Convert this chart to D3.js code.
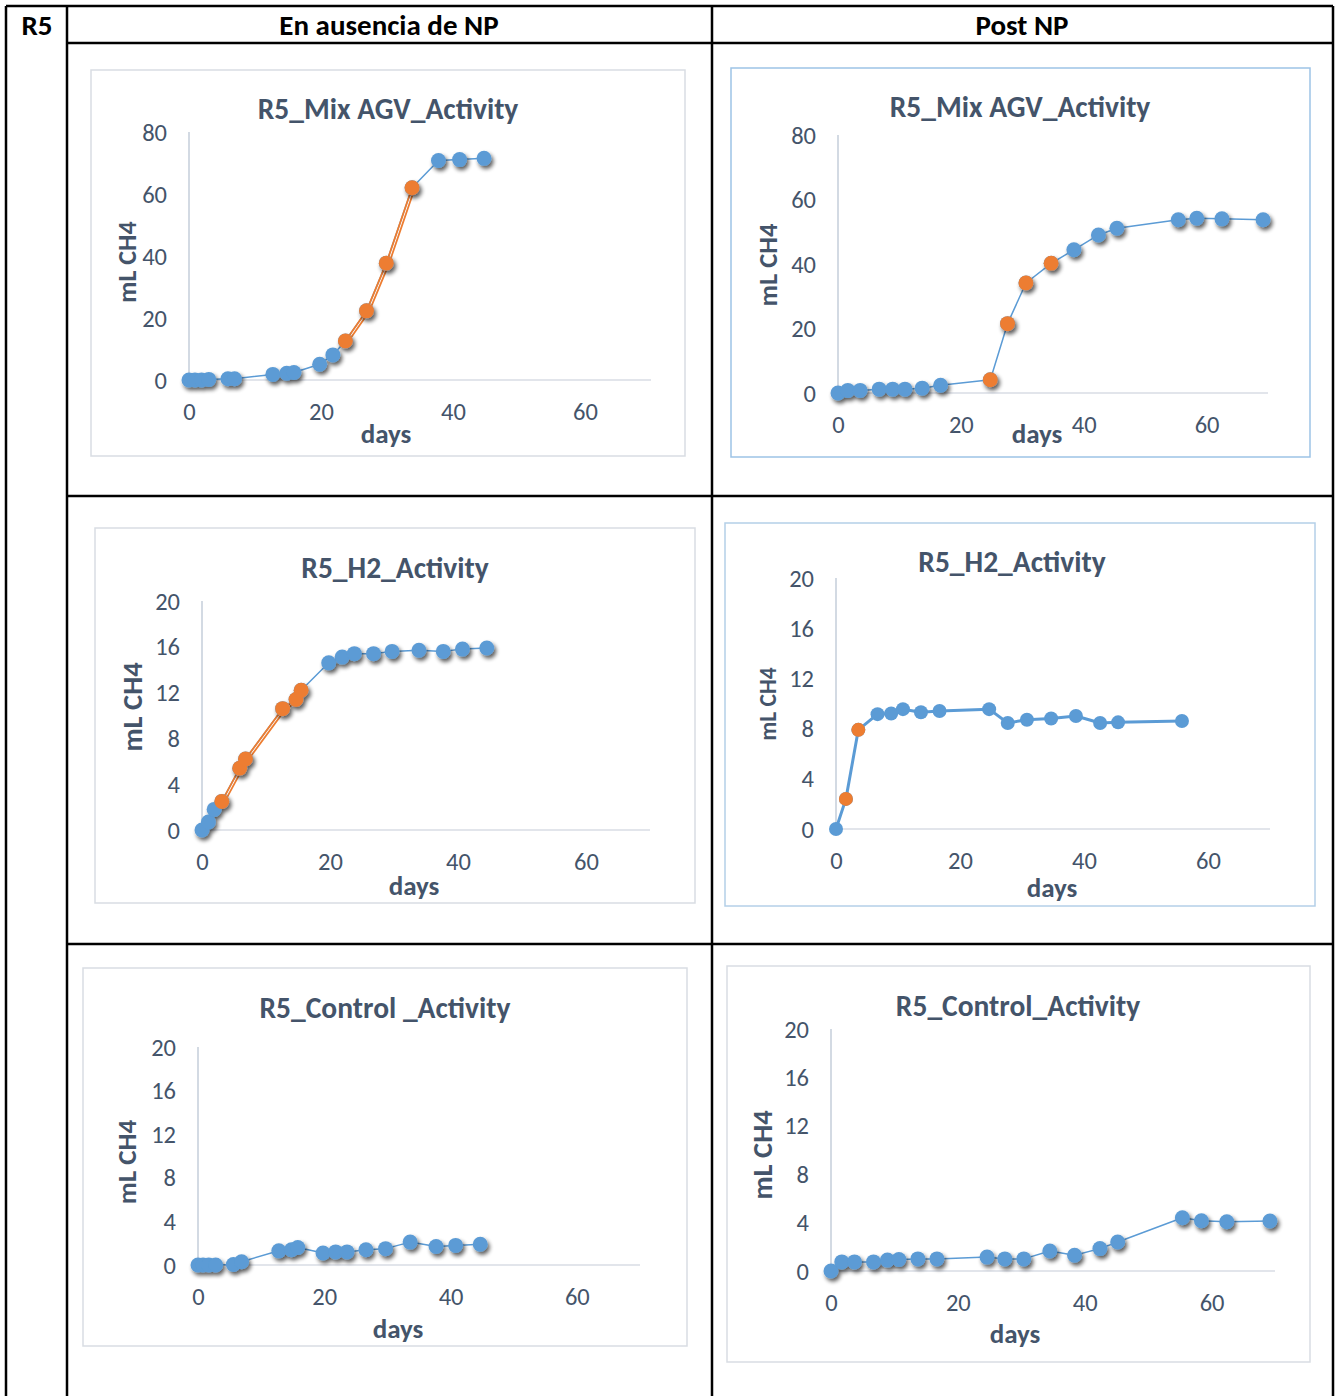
<!DOCTYPE html>
<html>
<head>
<meta charset="utf-8">
<script src="https://cdn.jsdelivr.net/npm/d3@7"></script>
<style>
  body { margin: 0; background: #fff; }
  svg text { font-family: Carlito, Lato, "Open Sans", sans-serif; }
</style>
</head>
<body>
<svg id="sheet" width="1338" height="1396"></svg>
<script>
// ---- Table headings ----
const rowLabel = "R5";
const columnHeaders = ["En ausencia de NP", "Post NP"];

// ---- Axis ticks ----
const xTicks = [0, 20, 40, 60];
const yTicksMix = [0, 20, 40, 60, 80];
const yTicksSmall = [0, 4, 8, 12, 16, 20];

// ---- Mix AGV, without NP ----
const mixPreDays = [0, 0.9, 1.9, 3, 5.9, 6.9, 12.7, 14.8, 15.9, 19.8, 21.8, 23.7, 26.9, 29.9, 33.8, 37.8, 41, 44.7];
const mixPreCH4  = [0, 0, 0, 0.2, 0.4, 0.4, 1.8, 2.2, 2.4, 5.1, 8.1, 12.6, 22.3, 37.7, 62.0, 70.8, 71.1, 71.5];
const mixPreActiveDays = [23.7, 26.9, 29.9, 33.8];
const mixPreActiveCH4  = [12.6, 22.3, 37.7, 62.0];

// ---- Mix AGV, post NP ----
const mixPostDays = [0, 1.6, 3.6, 6.7, 8.9, 10.9, 13.7, 16.7, 24.8, 27.6, 30.6, 34.7, 38.4, 42.4, 45.4, 55.4, 58.4, 62.5, 69.2];
const mixPostCH4  = [0, 0.8, 0.8, 1.2, 1.2, 1.2, 1.5, 2.4, 4.1, 21.5, 34.1, 40.2, 44.4, 49.0, 51.1, 53.7, 54.2, 54.0, 53.7];
const mixPostActiveDays = [24.8, 27.6, 30.6, 34.7];
const mixPostActiveCH4  = [4.1, 21.5, 34.1, 40.2];

// ---- H2, without NP ----
const h2PreDays = [0, 1.0, 1.9, 3.1, 5.9, 6.8, 12.6, 14.7, 15.5, 19.8, 21.9, 23.8, 26.8, 29.7, 33.9, 37.7, 40.7, 44.5];
const h2PreCH4  = [0, 0.7, 1.8, 2.5, 5.4, 6.2, 10.6, 11.4, 12.2, 14.6, 15.1, 15.4, 15.4, 15.6, 15.7, 15.6, 15.8, 15.9];
const h2PreActiveDays = [3.1, 5.9, 6.8, 12.6, 14.7, 15.5];
const h2PreActiveCH4  = [2.5, 5.4, 6.2, 10.6, 11.4, 12.2];

// ---- H2, post NP ----
const h2PostDays = [0, 1.6, 3.6, 6.7, 8.9, 10.8, 13.7, 16.7, 24.7, 27.7, 30.8, 34.7, 38.7, 42.6, 45.5, 55.8];
const h2PostCH4  = [0, 2.4, 7.9, 9.15, 9.2, 9.55, 9.3, 9.4, 9.55, 8.45, 8.7, 8.8, 9.0, 8.45, 8.5, 8.6];
const h2PostActiveDays = [1.6, 3.6];
const h2PostActiveCH4  = [2.4, 7.9];

// ---- Control, without NP ----
const ctrlPreDays = [0, 0.8, 1.7, 2.8, 5.6, 6.9, 12.8, 14.8, 15.8, 19.8, 21.8, 23.6, 26.6, 29.7, 33.6, 37.7, 40.8, 44.7];
const ctrlPreCH4  = [0, 0, 0, 0, 0.05, 0.3, 1.3, 1.4, 1.6, 1.1, 1.2, 1.2, 1.4, 1.5, 2.1, 1.7, 1.8, 1.9];

// ---- Control, post NP ----
const ctrlPostDays = [0, 1.7, 3.7, 6.7, 8.9, 10.7, 13.7, 16.7, 24.6, 27.4, 30.4, 34.5, 38.4, 42.4, 45.2, 55.4, 58.4, 62.4, 69.2];
const ctrlPostCH4  = [0, 0.75, 0.75, 0.75, 0.9, 0.95, 1.0, 1.0, 1.15, 1.0, 1.0, 1.65, 1.3, 1.85, 2.4, 4.4, 4.15, 4.07, 4.13];

const zip = (xs, ys) => xs.map((x, i) => ({ x, y: ys[i] }));

// Panel layout: frame box, plot extent and label anchors
const panels = [
  { title: "R5_Mix AGV_Activity", series: zip(mixPreDays, mixPreCH4), active: zip(mixPreActiveDays, mixPreActiveCH4),
    doubled: true, yTicks: yTicksMix, box: [91, 70, 685, 456], frame: "#d9dde3",
    px: [189, 651], py: [380, 132], titleAt: [388, 109],
    yLabAt: [127, 262], yLabSize: 26, xLabAt: [386, 433], shadow: true, lineW: 1.5, r: 7.5 },
  { title: "R5_Mix AGV_Activity", series: zip(mixPostDays, mixPostCH4), active: zip(mixPostActiveDays, mixPostActiveCH4),
    doubled: false, yTicks: yTicksMix, box: [731, 68, 1310, 457], frame: "#9dc3e6",
    px: [838, 1268], py: [393, 135], titleAt: [1020, 107],
    yLabAt: [768, 265], yLabSize: 26.5, xLabAt: [1037, 433], shadow: true, lineW: 1.5, r: 7.5 },
  { title: "R5_H2_Activity", series: zip(h2PreDays, h2PreCH4), active: zip(h2PreActiveDays, h2PreActiveCH4),
    doubled: true, yTicks: yTicksSmall, box: [95, 528, 695, 903], frame: "#d9dde3",
    px: [202, 650], py: [830, 601], titleAt: [395, 568],
    yLabAt: [132, 707], yLabSize: 28.5, xLabAt: [414, 885], shadow: true, lineW: 1.5, r: 7.5 },
  { title: "R5_H2_Activity", series: zip(h2PostDays, h2PostCH4), active: zip(h2PostActiveDays, h2PostActiveCH4),
    doubled: false, yTicks: yTicksSmall, box: [725, 523, 1315, 906], frame: "#b4cfe8",
    px: [836, 1270], py: [829, 578], titleAt: [1012, 562],
    yLabAt: [768, 704], yLabSize: 23.5, xLabAt: [1052, 887], shadow: false, lineW: 3, r: 7 },
  { title: "R5_Control _Activity", series: zip(ctrlPreDays, ctrlPreCH4), active: [],
    doubled: false, yTicks: yTicksSmall, box: [83, 968, 687, 1346], frame: "#d9dde3",
    px: [198, 640], py: [1265, 1047], titleAt: [385, 1008],
    yLabAt: [126, 1162], yLabSize: 27, xLabAt: [398, 1328], shadow: true, lineW: 1.5, r: 7.5 },
  { title: "R5_Control_Activity", series: zip(ctrlPostDays, ctrlPostCH4), active: [],
    doubled: false, yTicks: yTicksSmall, box: [727, 966, 1310, 1362], frame: "#d9dde3",
    px: [831, 1275], py: [1271, 1029], titleAt: [1018, 1006],
    yLabAt: [762, 1155], yLabSize: 28.5, xLabAt: [1015, 1333], shadow: true, lineW: 1.5, r: 7.5 }
];

const BLUE = "#5b9bd5", ORANGE = "#ed7d31", INK = "#44546a";
const TITLE_SIZE = 29.5, TICK_SIZE = 24.5, DAYS_SIZE = 27, HEAD_SIZE = 29;
const svg = d3.select("#sheet");

// soft drop shadow for the markers
const defs = svg.append("defs");
const f = defs.append("filter").attr("id", "mshadow").attr("x", "-50%").attr("y", "-50%").attr("width", "200%").attr("height", "200%");
f.append("feGaussianBlur").attr("in", "SourceAlpha").attr("stdDeviation", 2).attr("result", "b");
f.append("feOffset").attr("in", "b").attr("dx", 2).attr("dy", 3).attr("result", "o");
f.append("feComponentTransfer").attr("in", "o").attr("result", "s")
  .append("feFuncA").attr("type", "linear").attr("slope", 0.65);
const fm = f.append("feMerge");
fm.append("feMergeNode").attr("in", "s");
fm.append("feMergeNode").attr("in", "SourceGraphic");

// ---- Table grid ----
const grid = svg.append("g").attr("stroke", "#000").attr("stroke-width", 2.5);
[[6, 6, 1333, 6], [67, 43, 1333, 43], [67, 496, 1333, 496], [67, 944, 1333, 944],
 [6, 6, 6, 1396], [67, 6, 67, 1396], [712, 6, 712, 1396], [1333, 6, 1333, 1396]]
  .forEach(([x1, y1, x2, y2]) => grid.append("line").attr("x1", x1).attr("y1", y1).attr("x2", x2).attr("y2", y2));

const head = svg.append("g").attr("font-weight", "bold").attr("font-size", HEAD_SIZE).attr("fill", "#000")
  .attr("text-anchor", "middle").attr("dominant-baseline", "central");
head.append("text").attr("x", 37).attr("y", 25).text(rowLabel);
head.append("text").attr("x", 389).attr("y", 25).text(columnHeaders[0]);
head.append("text").attr("x", 1022).attr("y", 25).text(columnHeaders[1]);

// ---- Charts ----
panels.forEach(p => {
  const g = svg.append("g");
  const [bx0, by0, bx1, by1] = p.box;
  g.append("rect").attr("x", bx0).attr("y", by0).attr("width", bx1 - bx0).attr("height", by1 - by0)
    .attr("fill", "#fff").attr("stroke", p.frame).attr("stroke-width", 1.5);

  const yMax = p.yTicks[p.yTicks.length - 1];
  const x = d3.scaleLinear().domain([0, 70]).range(p.px);
  const y = d3.scaleLinear().domain([0, yMax]).range(p.py);

  // axis lines
  g.append("line").attr("x1", x(0)).attr("x2", x(70)).attr("y1", y(0)).attr("y2", y(0))
    .attr("stroke", "#d9dde4").attr("stroke-width", 1.5);
  g.append("line").attr("x1", x(0)).attr("x2", x(0)).attr("y1", y(0)).attr("y2", y(yMax))
    .attr("stroke", "#bcc6d4").attr("stroke-width", 1.3);

  // tick labels
  const xa = g.append("g").attr("transform", `translate(0,${y(0) + 32})`)
    .call(d3.axisBottom(x).tickValues(xTicks).tickSize(0).tickPadding(0));
  xa.select(".domain").remove();
  xa.selectAll("text").attr("dy", null).attr("dominant-baseline", "central")
    .attr("font-size", TICK_SIZE).attr("fill", INK).attr("font-family", null);

  const ya = g.append("g").attr("transform", `translate(${x(0) - 22},0)`)
    .call(d3.axisLeft(y).tickValues(p.yTicks).tickSize(0).tickPadding(0));
  ya.select(".domain").remove();
  ya.selectAll("text").attr("dy", null).attr("dominant-baseline", "central")
    .attr("font-size", TICK_SIZE).attr("fill", INK).attr("font-family", null);

  // titles
  g.append("text").attr("x", p.titleAt[0]).attr("y", p.titleAt[1]).attr("text-anchor", "middle")
    .attr("dominant-baseline", "central").attr("font-size", TITLE_SIZE).attr("font-weight", "bold")
    .attr("fill", INK).text(p.title);
  g.append("text").attr("transform", `translate(${p.yLabAt[0]},${p.yLabAt[1]}) rotate(-90)`)
    .attr("text-anchor", "middle").attr("dominant-baseline", "central")
    .attr("font-size", p.yLabSize).attr("font-weight", "bold").attr("fill", INK).text("mL CH4");
  g.append("text").attr("x", p.xLabAt[0]).attr("y", p.xLabAt[1]).attr("text-anchor", "middle")
    .attr("dominant-baseline", "central").attr("font-size", DAYS_SIZE).attr("font-weight", "bold")
    .attr("fill", INK).text("days");

  const line = d3.line().x(d => x(d.x)).y(d => y(d.y));
  const marks = g.append("g");

  marks.append("path").datum(p.series).attr("d", line).attr("fill", "none")
    .attr("stroke", BLUE).attr("stroke-width", p.lineW).attr("stroke-linejoin", "round");

  if (p.doubled && p.active.length) {
    marks.append("path").datum(p.active).attr("d", line).attr("fill", "none")
      .attr("stroke", ORANGE).attr("stroke-width", 1.8).attr("transform", "translate(2.5,1)");
    marks.append("path").datum(p.active).attr("d", line).attr("fill", "none")
      .attr("stroke", ORANGE).attr("stroke-width", 1.8);
  }

  const dots = marks.append("g").attr("filter", p.shadow ? "url(#mshadow)" : null);
  dots.selectAll("circle.s").data(p.series).join("circle").attr("class", "s")
    .attr("cx", d => x(d.x)).attr("cy", d => y(d.y)).attr("r", p.r).attr("fill", BLUE);
  dots.selectAll("circle.a").data(p.active).join("circle").attr("class", "a")
    .attr("cx", d => x(d.x)).attr("cy", d => y(d.y)).attr("r", p.r).attr("fill", ORANGE);
});
</script>
</body>
</html>
